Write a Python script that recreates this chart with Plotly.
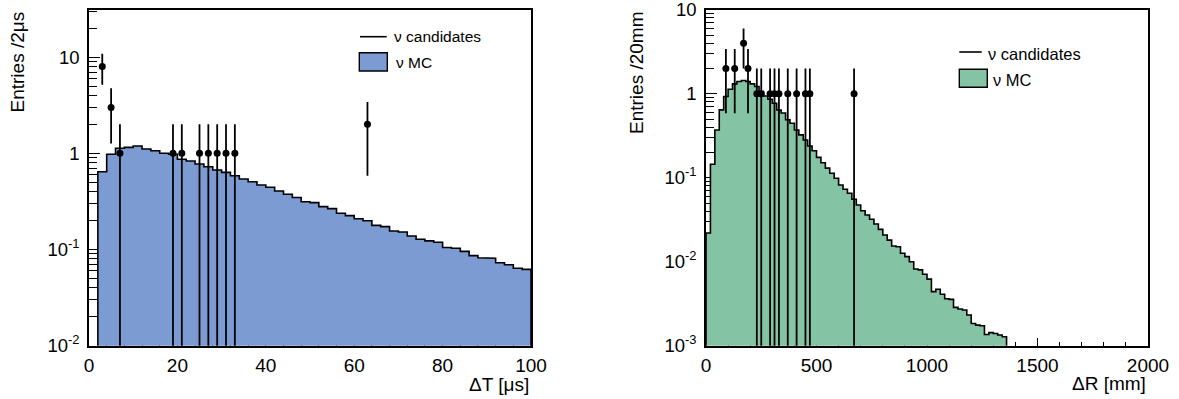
import numpy as np
import plotly.graph_objects as go

# ---------------- data ----------------
# Left panel: Delta T, 2 us bins from 0 to 100
dt_bin_width = 2
dt_range = (0, 100)
dt_mc = [0.0, 0.644, 0.977, 1.127, 1.154, 1.19, 1.108, 1.064, 1.0, 0.977,
         0.866, 0.832, 0.774, 0.726, 0.671, 0.634, 0.585, 0.541, 0.507, 0.468,
         0.443, 0.405, 0.376, 0.347, 0.314, 0.307, 0.279, 0.266, 0.238, 0.225,
         0.209, 0.199, 0.178, 0.173, 0.156, 0.152, 0.138, 0.128, 0.123, 0.119,
         0.105, 0.103, 0.0957, 0.0863, 0.0822, 0.081, 0.0729, 0.0695, 0.0638, 0.0622]
dt_data_x = [3, 5, 7, 19, 21, 25, 27, 29, 31, 33, 63]
dt_data_n = [8, 3, 1, 1, 1, 1, 1, 1, 1, 1, 2]

# Right panel: Delta R, 20 mm bins from 0 to 2000
dr_bin_width = 20
dr_range = (0, 2000)
dr_mc = [0.022, 0.145, 0.371, 0.643, 0.927, 1.13, 1.31, 1.40, 1.44, 1.40,
         1.31, 1.22, 1.06, 0.94, 0.86, 0.77, 0.64, 0.59, 0.49, 0.446,
         0.371, 0.324, 0.282, 0.239, 0.210, 0.175, 0.151, 0.130, 0.113, 0.0986,
         0.082, 0.073, 0.0654, 0.0554, 0.0474, 0.0405, 0.036, 0.032, 0.0281, 0.0243,
         0.0208, 0.0181, 0.0154, 0.0151, 0.0126, 0.0115, 0.0100, 0.0082, 0.0080, 0.0071,
         0.0062, 0.0044, 0.0047, 0.0041, 0.00362, 0.00356, 0.00286, 0.00273, 0.00266, 0.00232,
         0.00184, 0.00176, 0.00173, 0.00136, 0.00143, 0.0014, 0.00134, 0.00128] + [0.0] * 32
dr_data_x = [90, 130, 170, 190, 230, 250, 290, 310, 330, 370, 410, 450, 470, 670]
dr_data_n = [2, 2, 4, 2, 1, 1, 1, 1, 1, 1, 1, 1, 1, 1]

# tick labels
dt_xticks = [0, 20, 40, 60, 80, 100]
dr_xticks = [0, 500, 1000, 1500, 2000]
dt_yticks = [0.01, 0.1, 1, 10]
dt_yticktext = ["10<sup>-2</sup>", "10<sup>-1</sup>", "1", "10"]
dr_yticks = [0.001, 0.01, 0.1, 1, 10]
dr_yticktext = ["10<sup>-3</sup>", "10<sup>-2</sup>", "10<sup>-1</sup>", "1", "10"]

# ---------------- styling ----------------
W, H = 1179, 399
FONT = "Liberation Sans, Arial, Helvetica, sans-serif"
BLUE = "#7b9bd2"
GREEN = "#84c3a4"
FLOOR = 1e-7


def px(x):
    return x / W


def py(y):
    return 1 - y / H


def step_polygon(lo, hi, width, vals):
    edges = np.arange(lo, hi + width / 2, width)
    v = np.where(np.asarray(vals) > 0, vals, FLOOR)
    xs, ys = [edges[0]], [FLOOR]
    for i in range(len(v)):
        xs += [edges[i], edges[i + 1]]
        ys += [v[i], v[i]]
    xs.append(edges[-1])
    ys.append(FLOOR)
    return xs, ys


def err_lines(xv, nv):
    xs, ys = [], []
    for x, n in zip(xv, nv):
        e = np.sqrt(n)
        lo = n - e if n - e > 0 else FLOOR
        xs += [x, x, None]
        ys += [lo, n + e, None]
    return xs, ys


fig = go.Figure()

panels = [
    (dt_range, dt_bin_width, dt_mc, dt_data_x, dt_data_n, BLUE, "x", "y"),
    (dr_range, dr_bin_width, dr_mc, dr_data_x, dr_data_n, GREEN, "x2", "y2"),
]
for rng, bw, mc, dx, dn, col, xa, ya in panels:
    hx, hy = step_polygon(rng[0], rng[1], bw, mc)
    fig.add_trace(go.Scatter(x=hx, y=hy, mode="lines", fill="toself", fillcolor=col,
                             line=dict(color="black", width=1.6), xaxis=xa, yaxis=ya,
                             hoverinfo="skip", showlegend=False))
    ex, ey = err_lines(dx, dn)
    fig.add_trace(go.Scatter(x=ex, y=ey, mode="lines", line=dict(color="black", width=1.8),
                             xaxis=xa, yaxis=ya, showlegend=False, hoverinfo="skip"))
    fig.add_trace(go.Scatter(x=dx, y=dn, mode="markers",
                             marker=dict(color="black", size=7, symbol="circle"),
                             xaxis=xa, yaxis=ya, showlegend=False))


def xaxis_cfg(domain, rng, tickvals, minor_dtick):
    return dict(domain=domain, range=list(rng), showgrid=False, zeroline=False,
                showline=True, linecolor="black", linewidth=1.6, mirror=True,
                ticks="inside", ticklen=8, tickwidth=1, tickcolor="black",
                tickvals=tickvals, ticktext=[str(t) for t in tickvals],
                minor=dict(ticks="inside", ticklen=4, tickwidth=1, tickcolor="black",
                           dtick=minor_dtick, tick0=0),
                tickfont=dict(family=FONT, size=19, color="black"),
                ticklabelstandoff=2, ticklabeloverflow="allow",
                layer="below traces", fixedrange=True, automargin=False)


def log_minors(lo_exp, hi_exp):
    out = []
    for e in range(lo_exp, hi_exp + 1):
        for m in range(2, 10):
            out.append(m * 10.0 ** e)
    return out


def yaxis_cfg(domain, rng, tickvals, ticktext, anchor):
    return dict(domain=domain, type="log", range=list(rng), showgrid=False, zeroline=False,
                showline=True, linecolor="black", linewidth=1.6, mirror=True,
                ticks="inside", ticklen=11, tickwidth=1, tickcolor="black",
                tickvals=tickvals, ticktext=ticktext, anchor=anchor,
                minor=dict(ticks="inside", ticklen=8, tickwidth=1, tickcolor="black",
                           tickmode="array", tickvals=log_minors(int(rng[0]), int(np.floor(rng[1])))),
                tickfont=dict(family=FONT, size=18.5, color="black"),
                ticklabelstandoff=4, ticklabeloverflow="allow",
                layer="below traces", fixedrange=True, automargin=False)


ydom = [py(345.7), py(9.5)]
fig.update_layout(
    width=W, height=H, autosize=False,
    margin=dict(l=0, r=0, t=0, b=0, autoexpand=False),
    paper_bgcolor="white", plot_bgcolor="white",
    font=dict(family=FONT, color="black"),
    xaxis=xaxis_cfg([px(89), px(531)], dt_range, dt_xticks, 4),
    yaxis=yaxis_cfg(ydom, (-2, 1.495), dt_yticks, dt_yticktext, "x"),
    xaxis2=dict(xaxis_cfg([px(706), px(1148)], dr_range, dr_xticks, 100), anchor="y2"),
    yaxis2=yaxis_cfg([py(345.7), py(9.7)], (-3, 1.001), dr_yticks, dr_yticktext, "x2"),
    showlegend=False,
)

ann = []
# axis titles
ann.append(dict(text="Entries /2μs", x=px(17), y=py(10), xanchor="center", yanchor="top",
                textangle=-90, font=dict(size=19)))
ann.append(dict(text="Entries /20mm", x=px(636), y=py(10), xanchor="center", yanchor="top",
                textangle=-90, font=dict(size=19)))
ann.append(dict(text="ΔT [μs]", x=px(531), y=py(384), xanchor="right", yanchor="middle",
                font=dict(size=19)))
ann.append(dict(text="ΔR [mm]", x=px(1148), y=py(383), xanchor="right", yanchor="middle",
                font=dict(size=19)))
# legends
ann.append(dict(text="ν candidates", x=px(392), y=py(37), xanchor="left", yanchor="middle",
                font=dict(size=15.5)))
ann.append(dict(text="ν MC", x=px(394), y=py(62), xanchor="left", yanchor="middle",
                font=dict(size=15.5)))
ann.append(dict(text="ν candidates", x=px(986), y=py(53.5), xanchor="left", yanchor="middle",
                font=dict(size=16.5)))
ann.append(dict(text="ν MC", x=px(990.5), y=py(79.5), xanchor="left", yanchor="middle",
                font=dict(size=16.5)))
for a in ann:
    a.update(xref="paper", yref="paper", showarrow=False)
    a["font"].update(family=FONT, color="black")
fig.update_layout(annotations=ann)

shapes = [
    dict(type="line", x0=px(360), x1=px(386.7), y0=py(36.7), y1=py(36.7),
         line=dict(color="black", width=1.6)),
    dict(type="rect", x0=px(359.3), x1=px(387.3), y0=py(71), y1=py(52.7),
         fillcolor=BLUE, line=dict(color="black", width=1.4)),
    dict(type="line", x0=px(959.3), x1=px(981.7), y0=py(52), y1=py(52),
         line=dict(color="black", width=1.6)),
    dict(type="rect", x0=px(959.3), x1=px(987.3), y0=py(87.3), y1=py(69.3),
         fillcolor=GREEN, line=dict(color="black", width=1.4)),
]
for s in shapes:
    s.update(xref="paper", yref="paper", layer="above")
fig.update_layout(shapes=shapes)

fig.write_html("out.html", config={"displayModeBar": False},
               post_script="document.body.style.margin='0';document.body.style.padding='0';")
